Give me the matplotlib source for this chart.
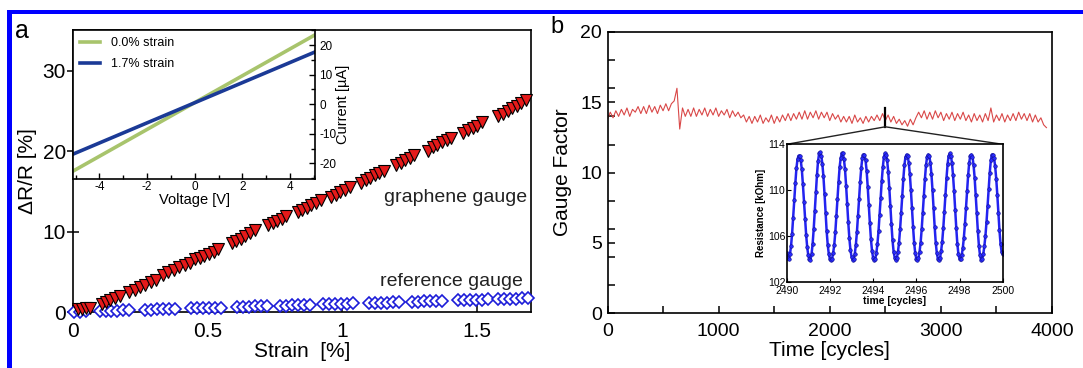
import numpy as np
import matplotlib
matplotlib.use("Agg")
import matplotlib.pyplot as plt
from matplotlib.patches import Rectangle, ConnectionPatch
from matplotlib.ticker import FixedLocator

plt.rcParams['font.family'] = ['Liberation Sans', 'DejaVu Sans']
plt.rcParams['axes.unicode_minus'] = False

# ---------------- data: panel a ----------------
graphene_strain = [0.020, 0.035, 0.050, 0.065,
                   0.110, 0.125, 0.140, 0.158, 0.175,
                   0.210, 0.230, 0.250, 0.270, 0.290, 0.310,
                   0.335, 0.355, 0.375, 0.395, 0.415, 0.435,
                   0.455, 0.472, 0.489, 0.506, 0.523, 0.540,
                   0.590, 0.607, 0.624, 0.641, 0.658, 0.675,
                   0.725, 0.742, 0.759, 0.776, 0.793,
                   0.835, 0.852, 0.869, 0.886, 0.903, 0.920,
                   0.960, 0.977, 0.994, 1.011, 1.028,
                   1.070, 1.087, 1.104, 1.121, 1.138, 1.155,
                   1.200, 1.217, 1.234, 1.251, 1.268,
                   1.320, 1.337, 1.354, 1.371, 1.388, 1.405,
                   1.450, 1.467, 1.484, 1.501, 1.518,
                   1.580, 1.597, 1.614, 1.631, 1.648, 1.665, 1.682]
graphene_dR = [0.35, 0.40, 0.45, 0.50,
               1.05, 1.25, 1.45, 1.75, 2.05,
               2.50, 2.80, 3.10, 3.40, 3.70, 4.00,
               4.60, 4.95, 5.25, 5.55, 5.85, 6.10,
               6.55, 6.75, 7.00, 7.25, 7.50, 7.80,
               8.60, 8.85, 9.10, 9.40, 9.80, 10.2,
               10.8, 11.05, 11.3, 11.6, 11.9,
               12.4, 12.7, 13.0, 13.3, 13.6, 13.9,
               14.3, 14.6, 14.9, 15.2, 15.5,
               16.1, 16.4, 16.7, 17.0, 17.3, 17.6,
               18.3, 18.6, 18.9, 19.2, 19.5,
               20.1, 20.5, 20.8, 21.1, 21.4, 21.7,
               22.3, 22.6, 22.9, 23.2, 23.6,
               24.4, 24.7, 25.0, 25.4, 25.7, 26.0, 26.4]

reference_strain = [0.006, 0.028, 0.050,
                    0.100, 0.122, 0.144, 0.166, 0.188, 0.210,
                    0.270, 0.292, 0.314, 0.336, 0.358, 0.380,
                    0.440, 0.462, 0.484, 0.506, 0.528, 0.550,
                    0.610, 0.632, 0.654, 0.676, 0.698, 0.720,
                    0.770, 0.792, 0.814, 0.836, 0.858, 0.880,
                    0.930, 0.952, 0.974, 0.996, 1.018, 1.040,
                    1.100, 1.122, 1.144, 1.166, 1.188, 1.210,
                    1.260, 1.282, 1.304, 1.326, 1.348, 1.370,
                    1.430, 1.452, 1.474, 1.496, 1.518, 1.540,
                    1.580, 1.602, 1.624, 1.646, 1.668, 1.690]
reference_dR = [0.05, 0.06, 0.08,
                0.12, 0.14, 0.16, 0.18, 0.20, 0.22,
                0.28, 0.30, 0.32, 0.35, 0.37, 0.39,
                0.45, 0.47, 0.49, 0.52, 0.54, 0.56,
                0.62, 0.64, 0.66, 0.69, 0.71, 0.73,
                0.78, 0.80, 0.83, 0.85, 0.87, 0.89,
                0.95, 0.97, 0.99, 1.01, 1.03, 1.06,
                1.12, 1.14, 1.16, 1.18, 1.21, 1.23,
                1.28, 1.30, 1.33, 1.35, 1.37, 1.39,
                1.45, 1.47, 1.50, 1.52, 1.54, 1.56,
                1.60, 1.62, 1.65, 1.67, 1.69, 1.72]

# inset a: I-V curves
iv_voltage = [-5.5, 5.5]
iv_current_0 = [-24.4, 25.5]
iv_current_17 = [-18.2, 19.2]

# ---------------- data: panel b ----------------
cycles = np.arange(0, 3951, 25)
gauge_factor = [13.8, 14.3, 13.9, 14.4, 14.0, 14.5, 14.1, 14.6, 14.0, 14.5, 14.3, 14.7, 14.2,
                14.7, 14.2, 14.8, 14.3, 14.7, 14.2, 14.8, 14.4, 14.9, 14.4, 14.9, 15.1,
                16.0, 13.1, 14.6, 14.0,
                14.5, 14.0, 14.6, 14.0, 14.5, 14.1, 14.6, 14.0, 14.5, 14.1, 14.6, 14.0, 14.4, 14.1, 14.5, 13.9, 14.4, 14.0, 14.3, 13.9,
                14.1, 13.6, 14.0, 13.5, 14.0, 13.6, 14.1, 13.5, 13.9, 13.6, 14.1, 13.5, 14.0, 13.6, 14.1, 13.7,
                14.2, 13.7, 14.2, 13.8, 14.3, 13.8, 14.4, 13.8, 14.3, 13.9, 14.4, 13.8, 14.3, 13.9, 14.3, 13.7, 14.2, 13.8, 14.1, 13.6,
                14.0, 13.6, 14.0, 13.5, 14.1, 13.6, 13.9, 13.5, 14.0, 13.6, 14.0, 13.7,
                14.1, 13.7, 14.2, 13.7, 14.1, 13.6, 14.0, 13.5, 13.8, 13.4,
                13.7, 13.3, 13.8, 13.4, 13.9, 14.3,
                13.9, 14.4, 13.8, 14.3, 13.8, 14.4, 13.9, 14.3, 13.7, 14.2, 13.8, 14.3, 13.7, 14.2, 13.8, 14.3,
                13.7, 14.1, 13.6, 14.2, 13.7, 14.1, 13.6, 14.2, 13.7, 14.6, 13.6, 14.1, 13.7, 14.2, 13.6, 14.1,
                13.7, 14.2, 13.7, 14.3, 13.8, 14.2, 13.7, 14.2, 13.6, 14.1, 13.6, 13.9, 13.4, 13.2]

zoom_marker_cycle = 2500
zoom_marker_gf = [13.26, 14.57]

# inset b: resistance over 10 cycles (sampled every 0.05 cycle)
res_time = np.round(np.arange(2490.0, 2500.001, 0.05), 2)
res_c0 = [104.5, 104.1, 104.0, 104.4, 105.1, 106.2, 107.6, 109.1, 110.6, 111.9, 112.7, 113.0, 113.0, 112.6, 111.8, 110.5, 109.0, 107.5, 106.1, 105.0]
res_c1 = [104.3, 104.0, 103.9, 104.4, 105.3, 106.6, 108.2, 109.8, 111.3, 112.5, 113.2, 113.3, 113.0, 112.3, 111.2, 109.7, 108.0, 106.4, 105.2, 104.4]
res_c2 = [104.0, 103.9, 104.0, 104.5, 105.2, 106.3, 107.7, 109.2, 110.7, 112.0, 112.8, 113.2, 113.2, 112.7, 111.8, 110.4, 108.8, 107.2, 105.8, 104.8]
res_c3 = [104.2, 103.9, 104.0, 104.4, 105.2, 106.3, 107.7, 109.2, 110.7, 111.9, 112.8, 113.1, 113.1, 112.6, 111.7, 110.3, 108.7, 107.1, 105.7, 104.7]
res_c4 = [104.1, 103.9, 104.0, 104.5, 105.3, 106.4, 107.8, 109.3, 110.8, 112.0, 112.9, 113.2, 113.1, 112.6, 111.6, 110.2, 108.6, 107.0, 105.6, 104.6]
res_c5 = [104.1, 103.9, 104.1, 104.6, 105.4, 106.6, 108.0, 109.5, 111.0, 112.2, 112.9, 113.1, 113.0, 112.4, 111.4, 110.0, 108.4, 106.8, 105.4, 104.5]
res_c6 = [104.0, 103.9, 104.1, 104.6, 105.4, 106.6, 108.0, 109.5, 111.0, 112.2, 112.9, 113.1, 113.0, 112.4, 111.4, 110.0, 108.4, 106.8, 105.4, 104.5]
res_c7 = [104.0, 103.9, 104.1, 104.7, 105.5, 106.7, 108.1, 109.6, 111.1, 112.3, 113.0, 113.2, 113.0, 112.4, 111.3, 109.9, 108.3, 106.7, 105.3, 104.4]
res_c8 = [104.0, 104.0, 104.3, 104.9, 105.8, 107.0, 108.4, 109.9, 111.3, 112.4, 113.0, 113.1, 112.9, 112.2, 111.1, 109.6, 108.0, 106.4, 105.1, 104.3]
res_c9 = [103.9, 104.0, 104.4, 105.1, 106.0, 107.2, 108.6, 110.1, 111.5, 112.6, 113.1, 113.1, 112.8, 112.1, 111.0, 109.6, 108.0, 106.5, 105.3, 104.6]
res_end = [104.4]
resistance = res_c0 + res_c1 + res_c2 + res_c3 + res_c4 + res_c5 + res_c6 + res_c7 + res_c8 + res_c9 + res_end

# ---------------- figure ----------------
W, H = 1083, 368
fig = plt.figure(figsize=(W / 100, H / 100), dpi=100)

def frac(x0, y0, x1, y1):
    return [x0 / W, 1 - y1 / H, (x1 - x0) / W, (y1 - y0) / H]

# blue frame
fig.add_artist(Rectangle((7 / W, 0), 5 / W, (H - 10) / H, transform=fig.transFigure,
                         color='#0000ff', lw=0, zorder=10))
fig.add_artist(Rectangle((7 / W, (H - 14) / H), 1 - 7 / W, 4 / H, transform=fig.transFigure,
                         color='#0000ff', lw=0, zorder=10))

# ---- panel a ----
axa = fig.add_axes(frac(72.7, 30, 530.7, 312))
axa.plot(reference_strain, reference_dR, linestyle='none', marker='D', ms=6.5,
         mfc='white', mec='#1c1cd8', mew=1.2, zorder=3, clip_on=False)
axa.plot(graphene_strain, graphene_dR, linestyle='none', marker='v', ms=8.5,
         mfc='#e41a1a', mec='black', mew=0.8, zorder=4, clip_on=False)
axa.set_xlim(0, 1.70)
axa.set_ylim(0, 35.1)
axa.set_xticks([0, 0.5, 1, 1.5])
axa.set_xticklabels(['0', '0.5', '1', '1.5'])
axa.set_yticks([0, 10, 20, 30])
axa.tick_params(axis='y', direction='inout', length=8, width=1.1, labelsize=15, pad=1)
axa.tick_params(axis='x', direction='in', length=5, width=1.1, labelsize=15, pad=7)
for s in axa.spines.values():
    s.set_linewidth(1.2)
axa.set_xlabel('Strain  [%]', fontsize=15, labelpad=1)
axa.set_ylabel('ΔR/R [%]', fontsize=15, labelpad=4)
axa.text(1.686, 14.3, 'graphene gauge', fontsize=14, ha='right', va='center', color='#222222')
axa.text(1.671, 3.75, 'reference gauge', fontsize=14, ha='right', va='center', color='#222222')
fig.text(22 / W, 1 - 31 / H, 'a', fontsize=18, ha='center', va='center')

# inset a
axi = fig.add_axes(frac(73.3, 30, 315, 179.3))
axi.set_zorder(5)
axi.plot(iv_voltage, iv_current_0, color='#a8c46c', lw=2.6, label='0.0% strain')
axi.plot(iv_voltage, iv_current_17, color='#1b3a96', lw=2.6, label='1.7% strain')
axi.set_xlim(-5.1, 5.05)
axi.set_ylim(-25.4, 25.1)
axi.yaxis.tick_right()
axi.yaxis.set_label_position('right')
axi.set_xticks([-4, -2, 0, 2, 4])
axi.xaxis.set_minor_locator(FixedLocator([-5, -3, -1, 1, 3, 5]))
axi.set_yticks([-20, -10, 0, 10, 20])
axi.yaxis.set_minor_locator(FixedLocator([-25, -15, -5, 5, 15, 25]))
axi.tick_params(which='both', direction='in', labelsize=8.5, width=1)
axi.tick_params(which='major', length=4)
axi.tick_params(which='minor', length=3)
axi.tick_params(axis='x', pad=1)
axi.tick_params(axis='y', pad=3)
for s in axi.spines.values():
    s.set_linewidth(1.2)
axi.set_xlabel('Voltage [V]', fontsize=10.5, labelpad=0)
axi.set_ylabel('Current [µA]', fontsize=10.5, labelpad=0)
axi.legend(loc='upper left', frameon=False, fontsize=9, handlelength=1.6,
           handletextpad=0.9, labelspacing=0.75, borderaxespad=0.2, borderpad=0.35)

# ---- panel b ----
axb = fig.add_axes(frac(607.5, 32, 1052, 313.3))
axb.plot(cycles, gauge_factor, color='#d94848', lw=0.8)
axb.plot([zoom_marker_cycle, zoom_marker_cycle], zoom_marker_gf, color='black', lw=1.6)
axb.set_xlim(0, 4000)
axb.set_ylim(0, 20)
axb.set_xticks([0, 1000, 2000, 3000, 4000])
axb.xaxis.set_minor_locator(FixedLocator([500, 1500, 2500, 3500]))
axb.set_yticks([0, 5, 10, 15, 20])
axb.yaxis.set_minor_locator(FixedLocator([2, 4, 6, 8, 12, 14, 16, 18]))
axb.tick_params(which='both', direction='in', width=1.1, labelsize=14)
axb.tick_params(which='major', length=5)
axb.tick_params(which='minor', length=5)
axb.tick_params(axis='x', pad=7)
axb.tick_params(axis='y', pad=4)
for s in axb.spines.values():
    s.set_linewidth(1.2)
axb.set_xlabel('Time [cycles]', fontsize=15, labelpad=1)
axb.set_ylabel('Gauge Factor', fontsize=15, labelpad=6)
fig.text(556.7 / W, 1 - 27 / H, 'b', fontsize=17, ha='center', va='center')

# inset b
axr = fig.add_axes(frac(786.7, 144.3, 1002.7, 281.7))
axr.set_zorder(5)
axr.plot(res_time, resistance, color='#2323f0', lw=1.8, marker='o', ms=2.6,
         mfc='#2a2aff', mec='#10108a', mew=0.4)
axr.set_xlim(2490, 2500)
axr.set_ylim(102, 114)
axr.set_xticks([2490, 2492, 2494, 2496, 2498, 2500])
axr.set_yticks([102, 106, 110, 114])
axr.tick_params(direction='in', length=3, labelsize=7.5, width=0.8)
axr.tick_params(axis='x', pad=3)
axr.tick_params(axis='y', pad=1)
for s in axr.spines.values():
    s.set_linewidth(1.2)
axr.set_xlabel('time [cycles]', fontsize=7.5, fontweight='bold', labelpad=0)
axr.set_ylabel('Resistance [kOhm]', fontsize=7, fontweight='bold', labelpad=1)

for xyB in [(0, 1), (1, 1)]:
    cp = ConnectionPatch(xyA=(zoom_marker_cycle, zoom_marker_gf[0]), coordsA=axb.transData,
                         xyB=xyB, coordsB=axr.transAxes, color='#222222', lw=1.0)
    fig.add_artist(cp)

fig.savefig('out.png', dpi=100)
